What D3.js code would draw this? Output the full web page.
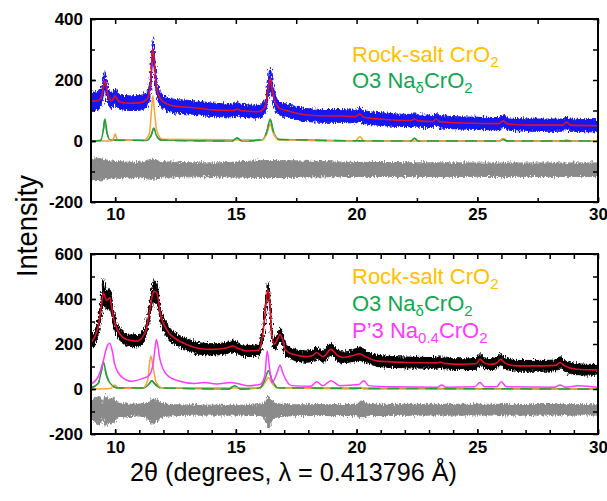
<!DOCTYPE html>
<html><head><meta charset="utf-8">
<script src="https://cdn.jsdelivr.net/npm/d3@7"></script>
<style>body{margin:0;background:#fff}</style>
</head><body><svg id="c" width="607" height="501"></svg>
<script>
// ---------- tick labels ----------
const xTickLabels = [10, 15, 20, 25, 30];
const topYTickLabels = [-200, 0, 200, 400];
const botYTickLabels = [-200, 0, 200, 400, 600];
const topYMinor = [-200, -100, 0, 100, 200, 300, 400];
const botYMinor = [-200, -100, 0, 100, 200, 300, 400, 500, 600];
const topXMinor = [10, 12.5, 15, 17.5, 20, 22.5, 25, 27.5, 30];
const botXMinor = [10, 11, 12, 13, 14, 15, 16, 17, 18, 19, 20, 21, 22, 23, 24, 25, 26, 27, 28, 29, 30];

// ---------- top panel: observed (band around fit) + calculated fit ----------
const topX    = [9.0, 9.3, 9.45, 9.52, 9.58, 9.64, 9.72, 9.85, 9.95, 10.0, 10.06, 10.2, 10.6, 11.0, 11.3, 11.42, 11.5, 11.55, 11.6, 11.68, 11.8, 12.0, 12.4, 13.2, 14.05, 14.9, 15.05, 15.2, 15.9, 16.2, 16.33, 16.42, 16.5, 16.62, 16.8, 17.1, 17.95, 18.8, 19.3, 19.95, 20.14, 20.3, 21.0, 22.25, 22.4, 22.55, 23.15, 23.3, 23.45, 24.4, 25.9, 26.07, 26.25, 27.2, 28.55, 28.7, 28.85, 30.0];
const topFit  = [130, 133, 150, 180, 197, 175, 145, 132, 142, 148, 140, 128, 124, 125, 135, 160, 230, 302, 280, 200, 150, 128, 115, 110, 102, 100, 105, 100, 96, 110, 165, 205, 172, 130, 108, 100, 85, 82, 82, 80, 88, 78, 72, 67, 72, 66, 64, 72, 63, 59, 57, 66, 56, 52, 52, 62, 52, 50];
const topObsSpread = [30, 30, 28, 30, 34, 28, 26, 25, 25, 26, 25, 24, 24, 24, 24, 26, 32, 36, 32, 28, 24, 23, 22, 22, 22, 21, 21, 21, 21, 22, 28, 38, 28, 24, 22, 21, 21, 21, 21, 21, 23, 21, 21, 20, 20, 20, 20, 20, 20, 20, 20, 20, 20, 20, 20, 20, 20, 20];

// top panel phase contributions
const topRsX  = [9.0, 9.85, 9.95, 10.0, 10.05, 10.15, 11.2, 11.42, 11.5, 11.56, 11.62, 11.72, 11.95, 16.1, 16.3, 16.42, 16.55, 16.8, 19.95, 20.14, 20.3, 25.9, 26.07, 26.25, 28.55, 28.7, 28.85, 30.0];
const topRsY  = [0, 0, 12, 24, 12, 2, 3, 25, 95, 148, 105, 35, 6, 3, 28, 55, 26, 4, 0, 15, 0, 0, 8, 0, 0, 4, 0, 0];
const topO3X  = [9.0, 9.4, 9.5, 9.58, 9.66, 9.8, 11.3, 11.5, 11.6, 11.7, 11.9, 14.85, 15.05, 15.25, 16.1, 16.3, 16.42, 16.55, 16.8, 22.25, 22.4, 22.55, 25.9, 26.07, 26.25, 30.0];
const topO3Y  = [0, 2, 30, 72, 28, 3, 2, 20, 42, 20, 3, 0, 10, 0, 4, 35, 72, 32, 5, 0, 9, 0, 0, 5, 0, 0];

// top panel difference curve (envelope)
const topDiffX  = [9.0, 9.3, 9.6, 10.0, 11.0, 11.55, 12.0, 14.0, 16.4, 20.0, 25.0, 30.0];
const topDiffLo = [-126, -130, -124, -122, -120, -126, -118, -117, -120, -116, -116, -116];
const topDiffHi = [-62, -57, -62, -67, -70, -60, -68, -72, -64, -70, -72, -72];

// ---------- bottom panel ----------
const botX   = [9.0, 9.3, 9.42, 9.51, 9.58, 9.65, 9.72, 9.78, 9.85, 9.92, 10.12, 10.48, 10.9, 11.24, 11.44, 11.55, 11.61, 11.72, 11.8, 11.86, 12.13, 12.55, 12.96, 13.5, 14.05, 14.6, 14.87, 15.1, 15.45, 15.93, 16.14, 16.25, 16.32, 16.4, 16.48, 16.59, 16.7, 16.83, 16.95, 17.04, 17.38, 17.94, 18.2, 18.35, 18.5, 18.62, 18.94, 19.2, 19.45, 19.9, 20.12, 20.3, 20.83, 22.07, 23.3, 23.46, 23.6, 24.42, 24.95, 25.11, 25.3, 25.53, 25.8, 25.97, 26.15, 26.64, 27.73, 28.25, 28.43, 28.6, 29.12, 29.96];
const botFit = [207, 278, 360, 428, 410, 394, 400, 405, 370, 323, 257, 220, 213, 250, 353, 420, 434, 428, 390, 340, 265, 220, 198, 180, 176, 182, 191, 180, 169, 172, 265, 380, 441, 400, 251, 199, 215, 243, 215, 176, 154, 144, 150, 162, 150, 144, 176, 150, 140, 150, 157, 148, 125, 118, 116, 120, 114, 110, 112, 132, 115, 110, 115, 132, 115, 103, 103, 105, 118, 104, 88, 85];
const botObsSpread = [30, 32, 42, 62, 42, 38, 42, 48, 38, 33, 28, 26, 26, 28, 36, 46, 48, 43, 36, 30, 28, 26, 26, 25, 25, 25, 26, 25, 25, 25, 28, 33, 33, 30, 26, 26, 26, 28, 26, 25, 25, 25, 25, 25, 25, 25, 26, 25, 25, 26, 30, 26, 25, 24, 24, 24, 24, 24, 24, 25, 24, 24, 24, 25, 24, 24, 24, 24, 25, 24, 24, 24];

const botP3X = [9.0, 9.3, 9.5, 9.65, 9.77, 9.88, 9.98, 10.26, 10.67, 11.1, 11.4, 11.57, 11.64, 11.71, 11.78, 11.85, 12.12, 12.6, 13.3, 13.7, 14.2, 14.8, 15.5, 16.0, 16.2, 16.3, 16.4, 16.5, 16.7, 16.83, 16.95, 17.3, 18.1, 18.35, 18.6, 18.94, 19.3, 20.1, 20.3, 20.5, 21.5, 23.35, 23.53, 23.7, 24.9, 25.11, 25.3, 25.8, 26.0, 26.2, 28.2, 28.43, 28.65, 29.2, 30.0];
const botP3Y = [22, 55, 120, 185, 203, 170, 110, 55, 35, 45, 60, 110, 170, 220, 185, 135, 66, 37, 25, 29, 22, 29, 15, 20, 60, 169, 90, 29, 70, 106, 70, 15, 12, 32, 14, 37, 15, 20, 37, 15, 10, 8, 18, 8, 10, 29, 10, 10, 32, 10, 8, 18, 8, 15, 8];
const botRsX = [9.0, 9.8, 9.98, 10.15, 11.15, 11.35, 11.42, 11.48, 11.56, 11.7, 11.95, 16.0, 16.22, 16.35, 16.48, 16.7, 20.0, 20.15, 20.3, 30.0];
const botRsY = [0, 2, 18, 2, 5, 40, 110, 147, 105, 30, 6, 4, 30, 51, 28, 5, 0, 8, 0, 0];
const botO3X = [9.0, 9.3, 9.42, 9.52, 9.62, 9.8, 10.1, 11.2, 11.4, 11.52, 11.65, 11.9, 14.7, 14.95, 15.2, 16.0, 16.2, 16.35, 16.5, 16.75, 30.0];
const botO3Y = [5, 25, 75, 120, 70, 25, 5, 5, 22, 37, 22, 5, 0, 15, 0, 5, 40, 81, 40, 5, 0];

const botDiffX  = [9.0, 9.2, 9.35, 9.5, 9.6, 9.75, 9.9, 10.1, 10.5, 11.0, 11.4, 11.55, 11.7, 11.9, 12.5, 14.0, 15.0, 16.0, 16.25, 16.35, 16.5, 16.8, 17.5, 20.0, 20.2, 20.5, 25.0, 30.0];
const botDiffLo = [-138, -148, -160, -128, -165, -148, -155, -128, -123, -120, -138, -160, -148, -128, -118, -116, -116, -118, -145, -172, -138, -123, -118, -118, -128, -118, -116, -116];
const botDiffHi = [-52, -42, -32, -62, -28, -47, -37, -62, -67, -67, -57, -42, -47, -62, -70, -72, -72, -70, -52, -32, -57, -67, -70, -68, -52, -68, -68, -70];

// ---------- drawing ----------
const FONT = "'Liberation Sans', Arial, sans-serif";
const svg = d3.select("#c");
const x = d3.scaleLinear().domain([9, 30]).range([91, 598]);
const yT = d3.scaleLinear().domain([-200, 400]).range([202, 19]);
const yB = d3.scaleLinear().domain([-200, 600]).range([434, 254]);

const defs = svg.append("defs");
defs.append("clipPath").attr("id", "cT").append("rect")
  .attr("x", 91).attr("y", 19).attr("width", 507).attr("height", 183);
defs.append("clipPath").attr("id", "cB").append("rect")
  .attr("x", 91).attr("y", 254).attr("width", 507).attr("height", 180);
// speckle texture for dense scatter bands (styling only)
const f = defs.append("filter").attr("id", "speckle")
  .attr("x", "-2%").attr("y", "-10%").attr("width", "104%").attr("height", "120%");
f.append("feTurbulence").attr("type", "fractalNoise").attr("baseFrequency", "0.9 0.35")
  .attr("numOctaves", 1).attr("seed", 3).attr("result", "n");
f.append("feDisplacementMap").attr("in", "SourceGraphic").attr("in2", "n")
  .attr("scale", 7).attr("xChannelSelector", "R").attr("yChannelSelector", "G");

function bandEnv(g, xs, lo, hi, y, color) {
  const idx = d3.range(xs.length);
  g.append("path").datum(idx)
    .attr("d", d3.area().curve(d3.curveMonotoneX)
      .x(i => x(xs[i])).y0(i => y(lo[i])).y1(i => y(hi[i])))
    .attr("fill", color).attr("stroke", color).attr("stroke-width", 1)
    .attr("filter", "url(#speckle)");
}
function bandAround(g, xs, c, s, y, color) {
  const idx = d3.range(xs.length);
  g.append("path").datum(idx)
    .attr("d", d3.area().curve(d3.curveMonotoneX)
      .x(i => x(xs[i])).y0(i => y(c[i] - s[i])).y1(i => y(c[i] + s[i])))
    .attr("fill", color).attr("stroke", color).attr("stroke-width", 1)
    .attr("filter", "url(#speckle)");
}
function line(g, xs, ys, y, color, w, dash) {
  const idx = d3.range(xs.length);
  const p = g.append("path").datum(idx)
    .attr("d", d3.line().curve(d3.curveMonotoneX).x(i => x(xs[i])).y(i => y(ys[i])))
    .attr("fill", "none").attr("stroke", color).attr("stroke-width", w);
  if (dash) p.attr("stroke-dasharray", dash);
}

function axes(y, yLabels, yMinor, xMinor, bottomY, topY, xPad) {
  const g = svg.append("g");
  const fmt = d => String(d);
  const style = s => {
    s.select(".domain").remove();
    s.selectAll("line").attr("stroke", "#000").attr("stroke-width", 1.5);
    s.selectAll("text").attr("font-family", FONT).attr("font-weight", "bold")
      .attr("font-size", 17).attr("fill", "#000");
  };
  g.append("g").attr("transform", "translate(91,0)")
    .call(d3.axisLeft(y).tickValues(yLabels).tickFormat(fmt).tickSizeInner(-5).tickSizeOuter(0).tickPadding(8)).call(style);
  g.append("g").attr("transform", "translate(91,0)")
    .call(d3.axisLeft(y).tickValues(yMinor).tickFormat("").tickSizeInner(-4).tickSizeOuter(0)).call(style);
  g.append("g").attr("transform", "translate(598,0)")
    .call(d3.axisRight(y).tickValues(yMinor).tickFormat("").tickSizeInner(-5).tickSizeOuter(0)).call(style);
  g.append("g").attr("transform", `translate(0,${bottomY})`)
    .call(d3.axisBottom(x).tickValues(xTickLabels).tickFormat(fmt).tickSizeInner(-5).tickSizeOuter(0).tickPadding(xPad)).call(style);
  g.append("g").attr("transform", `translate(0,${bottomY})`)
    .call(d3.axisBottom(x).tickValues(xMinor).tickFormat("").tickSizeInner(-4).tickSizeOuter(0)).call(style);
  g.append("g").attr("transform", `translate(0,${topY})`)
    .call(d3.axisTop(x).tickValues(xMinor).tickFormat("").tickSizeInner(-5).tickSizeOuter(0)).call(style);
  g.append("rect").attr("x", 91).attr("y", topY).attr("width", 507).attr("height", bottomY - topY)
    .attr("fill", "none").attr("stroke", "#000").attr("stroke-width", 2);
}

const GREEN = "#2e9a3c", ORANGE = "#f7a33a";

// top panel
const gT = svg.append("g").attr("clip-path", "url(#cT)");
bandEnv(gT, topDiffX, topDiffLo, topDiffHi, yT, "#8a8a8a");
bandAround(gT, topX, topFit, topObsSpread, yT, "#1414f0");
line(gT, topX, topFit, yT, "#e0102a", 1.6);
line(gT, topO3X, topO3Y, yT, GREEN, 1.5);
line(gT, topRsX, topRsY, yT, ORANGE, 1.5);
line(gT, topO3X, topO3Y, yT, GREEN, 1.5, "12,7");
axes(yT, topYTickLabels, topYMinor, topXMinor, 202, 19, 6);

// bottom panel
const gB = svg.append("g").attr("clip-path", "url(#cB)");
bandEnv(gB, botDiffX, botDiffLo, botDiffHi, yB, "#8a8a8a");
bandAround(gB, botX, botFit, botObsSpread, yB, "#000");
line(gB, botX, botFit, yB, "#e0102a", 1.6);
line(gB, botO3X, botO3Y, yB, GREEN, 1.5);
line(gB, botRsX, botRsY, yB, ORANGE, 1.5);
line(gB, botO3X, botO3Y, yB, GREEN, 1.5, "12,7");
line(gB, botP3X, botP3Y, yB, "#ff3cff", 1.5);
axes(yB, botYTickLabels, botYMinor, botXMinor, 434, 254, 7);

// legends
function legendLine(px, py, parts, color) {
  const t = svg.append("text").attr("x", px).attr("y", py)
    .attr("font-family", FONT).attr("font-size", 22).attr("fill", color);
  let shifted = false;
  parts.forEach(p => {
    const ts = t.append("tspan").text(p.s);
    if (p.sub && !shifted) { ts.attr("font-size", 15).attr("dy", 5); shifted = true; }
    else if (p.sub) { ts.attr("font-size", 15); }
    else if (shifted) { ts.attr("dy", -5); shifted = false; }
  });
}
const legRock = [{s: "Rock-salt CrO"}, {s: "2", sub: true}];
const legO3 = [{s: "O3 Na"}, {s: "δ", sub: true}, {s: "CrO"}, {s: "2", sub: true}];
const legP3 = [{s: "P’3 Na"}, {s: "0.4", sub: true}, {s: "CrO"}, {s: "2", sub: true}];
legendLine(352, 62, legRock, "#ffc000");
legendLine(352, 88, legO3, "#12a552");
legendLine(352, 284, legRock, "#ffc000");
legendLine(352, 311, legO3, "#12a552");
legendLine(352, 338, legP3, "#ff3cff");

// axis titles
svg.append("text").attr("x", 130).attr("y", 481)
  .attr("font-family", FONT).attr("font-size", 25).attr("fill", "#000")
  .attr("textLength", 327).attr("lengthAdjust", "spacingAndGlyphs")
  .text("2θ (degrees, λ = 0.413796 Å)");
svg.append("text").attr("transform", "translate(37,226) rotate(-90)")
  .attr("text-anchor", "middle")
  .attr("font-family", FONT).attr("font-size", 30).attr("fill", "#000")
  .attr("textLength", 102).attr("lengthAdjust", "spacingAndGlyphs")
  .text("Intensity");
</script>
</body></html>
